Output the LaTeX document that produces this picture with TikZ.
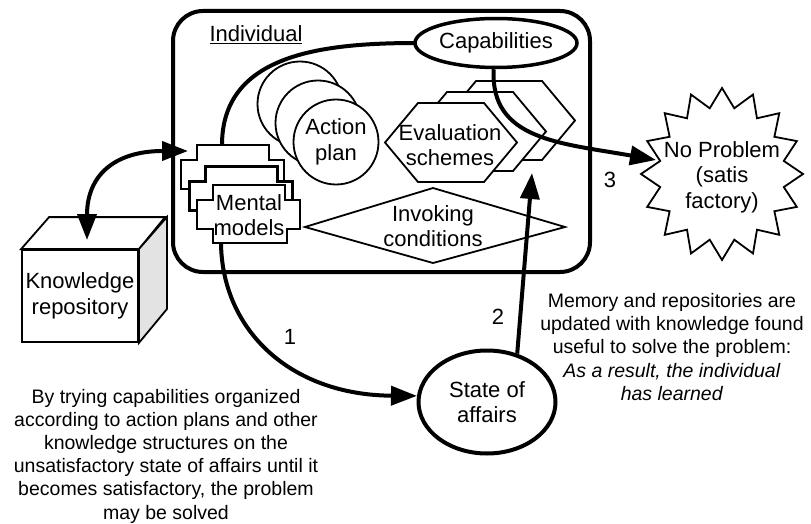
\documentclass[tikz,border=0pt]{standalone}
\usepackage{fontspec}
\setmainfont{Liberation Sans}
\usetikzlibrary{arrows.meta,shapes.geometric,calc}

\tikzset{
  thinshape/.style={draw,line width=1.8pt,fill=white},
  thickline/.style={line width=4pt},
  flow/.style={line width=4pt,-{Triangle[length=26pt,width=19pt]}},
  twoway/.style={line width=4pt,{Triangle[length=26pt,width=19pt]}-{Triangle[length=26pt,width=19pt]}},
  lbl/.style={font=\fontsize{22}{25.5}\selectfont,align=center,inner sep=0pt},
  note/.style={font=\fontsize{19.5}{23.2}\selectfont,align=center,inner sep=0pt},
  % stepped outline used for the stack of mental models
  mmshape/.pic={\draw[pic actions] (0,0) -- (72,0) -- (72,15) -- (87,15) -- (87,44)
      -- (74,44) -- (74,58) -- (0,58) -- (0,44) -- (-16,44) -- (-16,15) -- (0,15) -- cycle;},
  % flat hexagon used for the evaluation schemes
  hexa/.pic={\draw[pic actions] (-66,0) -- (-33,-39.5) -- (33,-39.5) -- (66,0)
      -- (33,39.5) -- (-33,39.5) -- cycle;},
}

\begin{document}
\begin{tikzpicture}[x=1pt,y=-1pt]
\useasboundingbox (0,0) rectangle (811,524);

% the individual
\draw[thickline,rounded corners=30pt] (173,11) rectangle (590,272);
\node[lbl] (indiv) at (256,35) {\underline{Individual}};

% anchor points of the connectors
\coordinate (mmtop) at (222,145);
\coordinate (mmbottom) at (221,243);
\coordinate (mmleft) at (188,151);
\coordinate (krtop) at (87,240);
\coordinate (evaltip) at (532,173);
\coordinate (nptip) at (656,160);

% capabilities feed the mental models
\draw[thickline] (417,43) .. controls (320,43) and (222,55) .. (mmtop);

% action plans
\node[thinshape,circle,minimum size=85pt,inner sep=0pt] (ap1) at (300,104) {};
\node[thinshape,circle,minimum size=85pt,inner sep=0pt] (ap2) at (318,123) {};
\node[thinshape,circle,minimum size=85pt,lbl] (ap) at (336,142) {Action\\plan};

% evaluation schemes
\pic[thinshape] at (509,120.5) {hexa};
\pic[thinshape] at (480,131.5) {hexa};
\pic[thinshape] at (451,142.5) {hexa};
\node[lbl] (es) at (450,145) {Evaluation\\schemes};

% invoking conditions
\draw[thinshape] (305,227) -- (433,188) -- (565,227) -- (433,263) -- cycle;
\node[lbl] (ic) at (433,226) {Invoking\\conditions};

% mental models
\pic[thinshape] at (197,145) {mmshape};
\pic[thinshape,line width=3pt] at (205,166) {mmshape};
\pic[thinshape] at (213,185) {mmshape};
\node[lbl] (mm) at (249,215) {Mental\\models};

% capabilities
\node[draw,ellipse,line width=3.5pt,fill=white,minimum width=162pt,minimum height=49pt,lbl] (cap) at (496,43) {Capabilities};

% no problem
\draw[line width=1.8pt,fill=white] plot[samples at={0,...,31},variable=\k]
  ({722+ifthenelse(mod(\k,2)==0,81,63)*sin(\k*11.25)},{174-ifthenelse(mod(\k,2)==0,86,67)*cos(\k*11.25)}) -- cycle;
\node[lbl] (np) at (722,177) {No Problem\\(satis\\factory)};

% step 3
\draw[flow] (cap.265) .. controls (490,140) and (560,143) .. (nptip);
\node[lbl] (n3) at (610,180) {3};

% knowledge repository
\node[thinshape,minimum width=116pt,minimum height=92pt,lbl] (kr) at (80,296) {Knowledge\\repository};
\draw[line width=1.8pt,fill=white] (kr.north west) -- ++(28,-32) -- ++(116,0) -- (kr.north east) -- cycle;
\draw[line width=1.8pt,fill=gray!22] (kr.north east) -- ++(28,-32) -- ++(0,92) -- (kr.south east) -- cycle;
\draw[twoway] (krtop) .. controls (87,175) and (115,151) .. (mmleft);

% state of affairs
\node[draw,ellipse,line width=4pt,fill=white,minimum width=137pt,minimum height=103pt,lbl] (soa) at (487,402) {State of\\affairs};

% step 1
\draw[flow] (mmbottom) .. controls (222,330) and (290,395) .. (soa.175);
\node[lbl] (n1) at (290,337) {1};

% step 2
\draw[flow] (soa.58) -- (evaltip);
\node[lbl] (n2) at (498,317) {2};

% notes
\node[note] (howto) at (166,456) {By trying capabilities organized\\according to action plans and other\\knowledge structures on the\\unsatisfactory state of affairs until it\\becomes satisfactory, the problem\\may be solved};
\node[note] (learned) at (672,347) {Memory and repositories are\\updated with knowledge found\\useful to solve the problem:\\\textit{As a result, the individual}\\\textit{has learned}};
\end{tikzpicture}
\end{document}
